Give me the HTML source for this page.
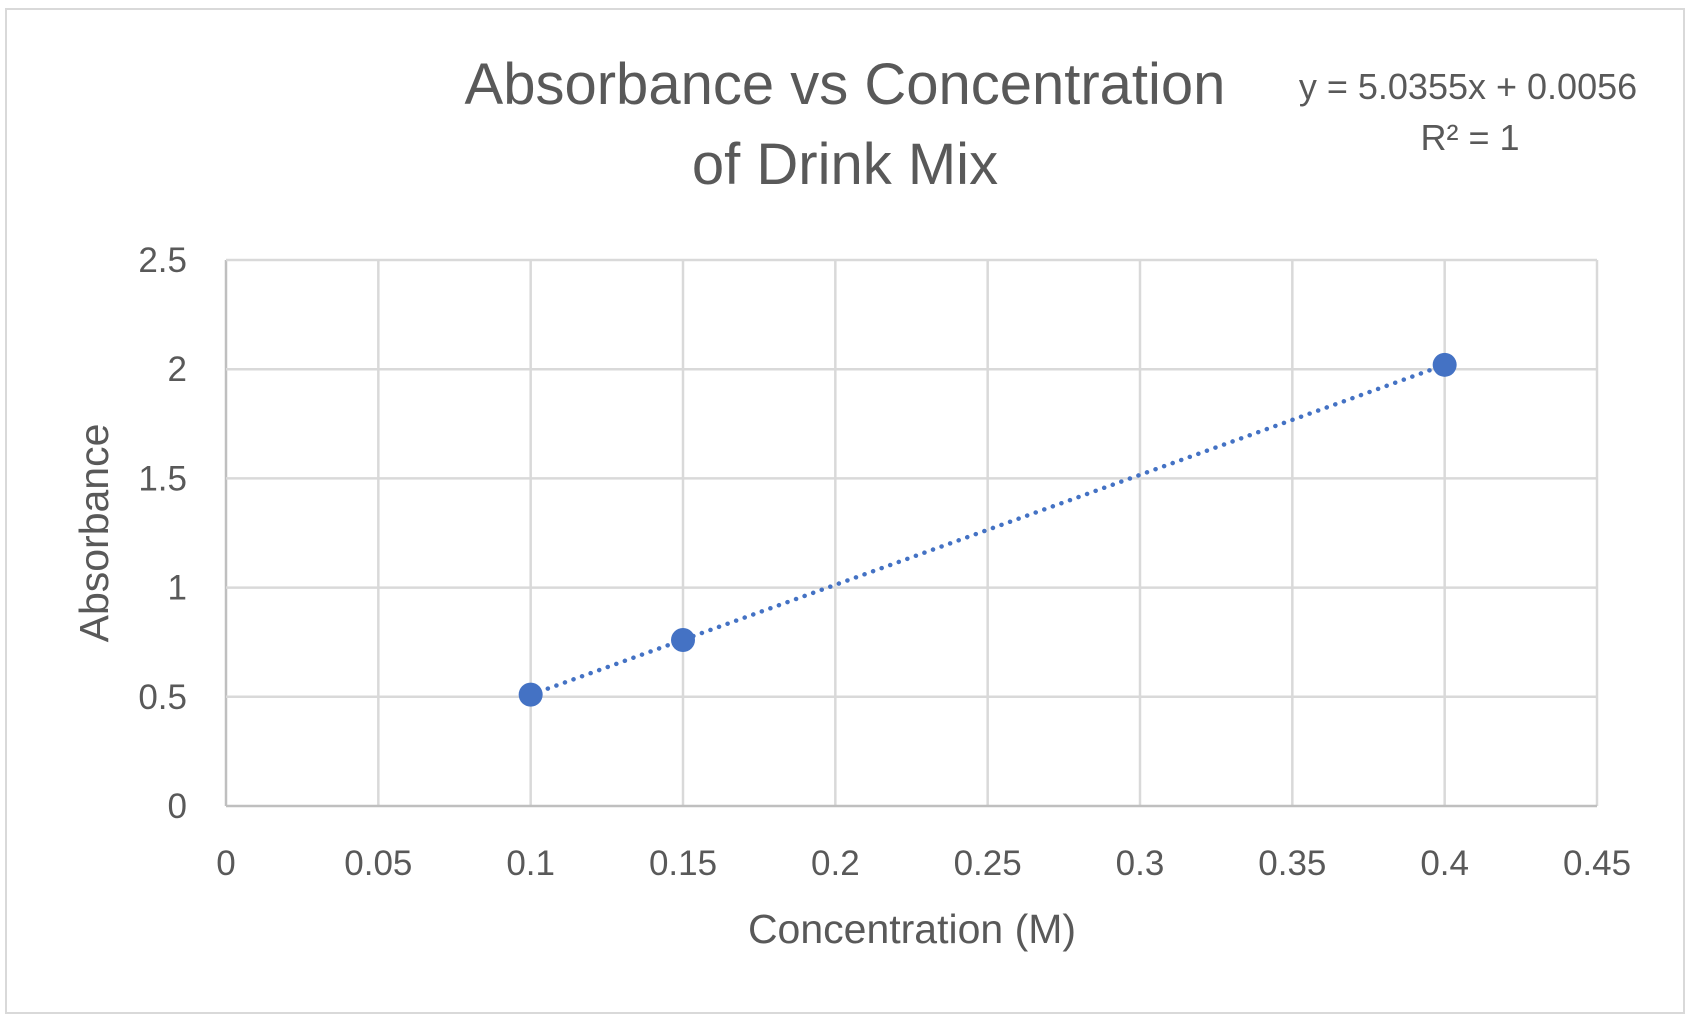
<!DOCTYPE html>
<html><head><meta charset="utf-8"><style>
html,body{margin:0;padding:0;background:#fff;}
svg{display:block;font-family:"Liberation Sans",sans-serif;}
</style></head><body>
<svg id="chart" width="1690" height="1018" viewBox="0 0 1690 1018">
<rect x="6" y="9" width="1678" height="1004" fill="#fff" stroke="#d9d9d9" stroke-width="2"/>
<g id="grid"></g>
<g id="marks"></g>
<text x="845" y="104" text-anchor="middle" font-size="58" fill="#595959">Absorbance vs Concentration</text>
<text x="845" y="184" text-anchor="middle" font-size="58" fill="#595959">of Drink Mix</text>
<text x="1468" y="99" text-anchor="middle" font-size="36" fill="#595959">y = 5.0355x + 0.0056</text>
<text x="1470" y="150" text-anchor="middle" font-size="36" fill="#595959">R² = 1</text>
<text x="912" y="943" text-anchor="middle" font-size="41" fill="#595959">Concentration (M)</text>
<text transform="translate(108,533) rotate(-90)" text-anchor="middle" font-size="41" fill="#595959">Absorbance</text>
</svg>
<script>
const xTicks=[0,0.05,0.1,0.15,0.2,0.25,0.3,0.35,0.4,0.45];
const xTickLabels=["0","0.05","0.1","0.15","0.2","0.25","0.3","0.35","0.4","0.45"];
const yTicks=[0,0.5,1,1.5,2,2.5];
const yTickLabels=["0","0.5","1","1.5","2","2.5"];
const concentration=[0.1,0.15,0.4];
const absorbance=[0.51,0.76,2.02];
const slope=5.0355, intercept=0.0056;
const L=226,R=1597,T=260,B=806;
const xs=v=>L+(v-0)/(0.45-0)*(R-L);
const ys=v=>B-(v-0)/(2.5-0)*(B-T);
const NS="http://www.w3.org/2000/svg";
const grid=document.getElementById('grid'), marks=document.getElementById('marks');
function mk(tag,attrs,parent){const e=document.createElementNS(NS,tag);for(const k in attrs)e.setAttribute(k,attrs[k]);parent.appendChild(e);return e;}
xTicks.forEach((v,i)=>{
  const l=mk('line',{x1:xs(v),x2:xs(v),y1:T,y2:B,stroke:i===0?'#bfbfbf':'#d9d9d9','stroke-width':2.5},grid);
  
  
  const t=mk('text',{x:xs(v),y:875,'text-anchor':'middle','font-size':35,fill:'#595959'},grid);
  t.textContent=xTickLabels[i];
  
  
});
yTicks.forEach((v,i)=>{
  const l=mk('line',{x1:L,x2:R,y1:ys(v),y2:ys(v),stroke:i===0?'#bfbfbf':'#d9d9d9','stroke-width':2.5},grid);
  
  
  const t=mk('text',{x:187,y:ys(v)+12,'text-anchor':'end','font-size':35,fill:'#595959'},grid);
  t.textContent=yTickLabels[i];
  
  
});
const x0=Math.min(...concentration), x1=Math.max(...concentration);
const tl=mk('line',{x1:xs(x0),y1:ys(slope*x0+intercept),x2:xs(x1),y2:ys(slope*x1+intercept),stroke:'#4472C4','stroke-width':4.5,'stroke-dasharray':'0.1 9','stroke-linecap':'round'},marks);


concentration.forEach((c,i)=>{
  const p=mk('circle',{cx:xs(c),cy:ys(absorbance[i]),r:12,fill:'#4472C4'},marks);
  
  
});
</script>
</body></html>
